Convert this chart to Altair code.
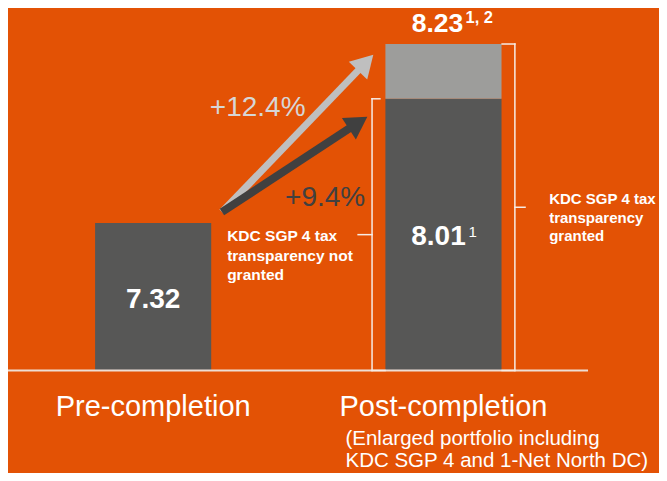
import altair as alt
import pandas as pd

# ---------------- data ----------------
categories = ["Pre-completion", "Post-completion"]
cat_pos = [0, 1]
dpu_not_granted = [7.32, 8.01]          # dark bars
dpu_granted_total = 8.23                # post-completion incl. tax transparency
value_labels = ["7.32", "8.01", "8.23"]
superscripts = ["", "1", "1, 2"]
growth_labels = ["+12.4%", "+9.4%"]
subtitle_lines = ["(Enlarged portfolio including", "KDC SGP 4 and 1-Net North DC)"]
note_left = ["KDC SGP 4 tax", "transparency not", "granted"]
note_right = ["KDC SGP 4 tax", "transparency", "granted"]

# annotation anchor points (data units)
arrow_tail = (0.237, 7.398)
arrow_heads = [(0.732, 8.159), (0.706, 7.902)]
arrow_angles = [43.9, 56.8]

# ---------------- styling ----------------
W, H = 651, 465
PXU = 290.31
BG = "#E35205"
DARK = "#575756"
LIGHT = "#9D9D9B"
FONT = "Liberation Sans"
E = 6.78
YMAX = 8.358
BASE_PX = 362.5
HALF = 0.2

xscale = alt.Scale(domain=[-0.5, -0.5 + W / PXU], range=[0, W], nice=False, zero=False)
yscale = alt.Scale(type="pow", exponent=E, domain=[0, YMAX], range=[BASE_PX, 0], nice=False)
X = alt.X("x:Q", scale=xscale, axis=None)
Y = alt.Y("y:Q", scale=yscale, axis=None)

layers = []

# ---------------- bars ----------------
bars = pd.DataFrame({
    "cat": [categories[0], categories[1], categories[1]],
    "pos": [cat_pos[0], cat_pos[1], cat_pos[1]],
    "y0": [0, 0, dpu_not_granted[1]],
    "y1": [dpu_not_granted[0], dpu_not_granted[1], dpu_granted_total],
    "seg": ["dark", "dark", "light"],
})
bars["x"] = bars["pos"] - HALF
bars["x1"] = bars["pos"] + HALF
layers.append(
    alt.Chart(bars).mark_rect().encode(
        x=X, x2="x1:Q",
        y=alt.Y("y0:Q", scale=yscale, axis=None), y2="y1:Q",
        color=alt.Color("seg:N", scale=alt.Scale(domain=["dark", "light"], range=[DARK, LIGHT]), legend=None),
    )
)


def rules(df, color, width, cap="butt"):
    return alt.Chart(df).mark_rule(color=color, strokeWidth=width, strokeCap=cap).encode(
        x=X, x2="x2:Q", y=Y, y2="y2:Q"
    )


# baseline
layers.append(rules(pd.DataFrame({"x": [-0.5], "x2": [1.498], "y": [0], "y2": [0]}), "#EEDDD3", 2))

# brackets
def mid_val(v):
    return YMAX * (0.5 * (v / YMAX) ** E) ** (1 / E)

lv, rv = dpu_not_granted[1], dpu_granted_total
lm, rm = mid_val(lv), mid_val(rv)
br = pd.DataFrame({
    "x":  [0.754, 0.754, 0.754, 0.754, 1.246, 1.246, 1.246, 1.246],
    "x2": [0.754, 0.781, 0.799, 0.706, 1.246, 1.202, 1.202, 1.281],
    "y":  [0, lv, 0, lm, 0, rv, 0, rm],
    "y2": [lv, lv, 0, lm, rv, rv, 0, rm],
})
layers.append(rules(br, "#F7ECE5", 1.5, "square"))

# arrows
arrow_colors = ["#BFBFBF", "#404040"]
arrow_widths = [7, 8]
for (hx, hy), ang, col, sw in zip(arrow_heads, arrow_angles, arrow_colors, arrow_widths):
    shaft = pd.DataFrame({"x": [arrow_tail[0]], "y": [arrow_tail[1]], "x2": [hx], "y2": [hy]})
    layers.append(rules(shaft, col, sw))
    head = pd.DataFrame({"x": [hx], "y": [hy]})
    layers.append(
        alt.Chart(head).mark_point(shape="triangle-up", filled=True, size=650, angle=ang,
                                   color=col, opacity=1, strokeWidth=0).encode(x=X, y=Y)
    )


def label(text, x, y, dx, dy, size, color, bold=False, align="center", lh=None):
    df = pd.DataFrame({"x": [x], "y": [y]})
    props = dict(dx=dx, dy=dy, fontSize=size, color=color, font=FONT,
                 fontWeight="bold" if bold else "normal", align=align, baseline="alphabetic")
    if lh:
        props["lineHeight"] = lh
    return alt.Chart(df).mark_text(**props).encode(x=X, y=Y, text=alt.value(text))


WHITE = "#FFFFFF"
# value labels
layers.append(label(value_labels[0], cat_pos[0], 0, 0, -62.5, 28, WHITE, True))
layers.append(label(value_labels[1], cat_pos[1], 0, -5, -125.5, 28, WHITE, True))
layers.append(label(superscripts[1], cat_pos[1], 0, 25, -133.5, 15, WHITE, False, "left"))
layers.append(label(value_labels[2], cat_pos[1], dpu_granted_total, -6, -12, 26.5, WHITE, True))
layers.append(label(superscripts[2], cat_pos[1], dpu_granted_total, 22, -21, 16.5, WHITE, True, "left"))

# growth labels
layers.append(label(growth_labels[0], cat_pos[0], 0, 104.5, -254.5, 28, "#D6D6D6"))
layers.append(label(growth_labels[1], cat_pos[0], 0, 172, -164.5, 28, "#404040"))

# notes
layers.append(label(note_left, cat_pos[0], 0, 74, -129.5, 15.5, WHITE, True, "left", 19.5))
layers.append(label(note_right, cat_pos[1], 0, 105.7, -166.5, 15, WHITE, True, "left", 18.5))

# category labels
for c, p in zip(categories, cat_pos):
    layers.append(label(c, p, 0, 0, 45.5, 29, WHITE))
layers.append(label(subtitle_lines, cat_pos[1], 0, -98, 74.5, 20.5, WHITE, False, "left", 22))

chart = alt.layer(*layers).properties(
    width=W, height=H, background=BG, padding=0,
    autosize=alt.AutoSizeParams(type="none"),
).configure_view(stroke=None)

chart.save("out.html", embed_options={"renderer": "svg", "actions": False})
